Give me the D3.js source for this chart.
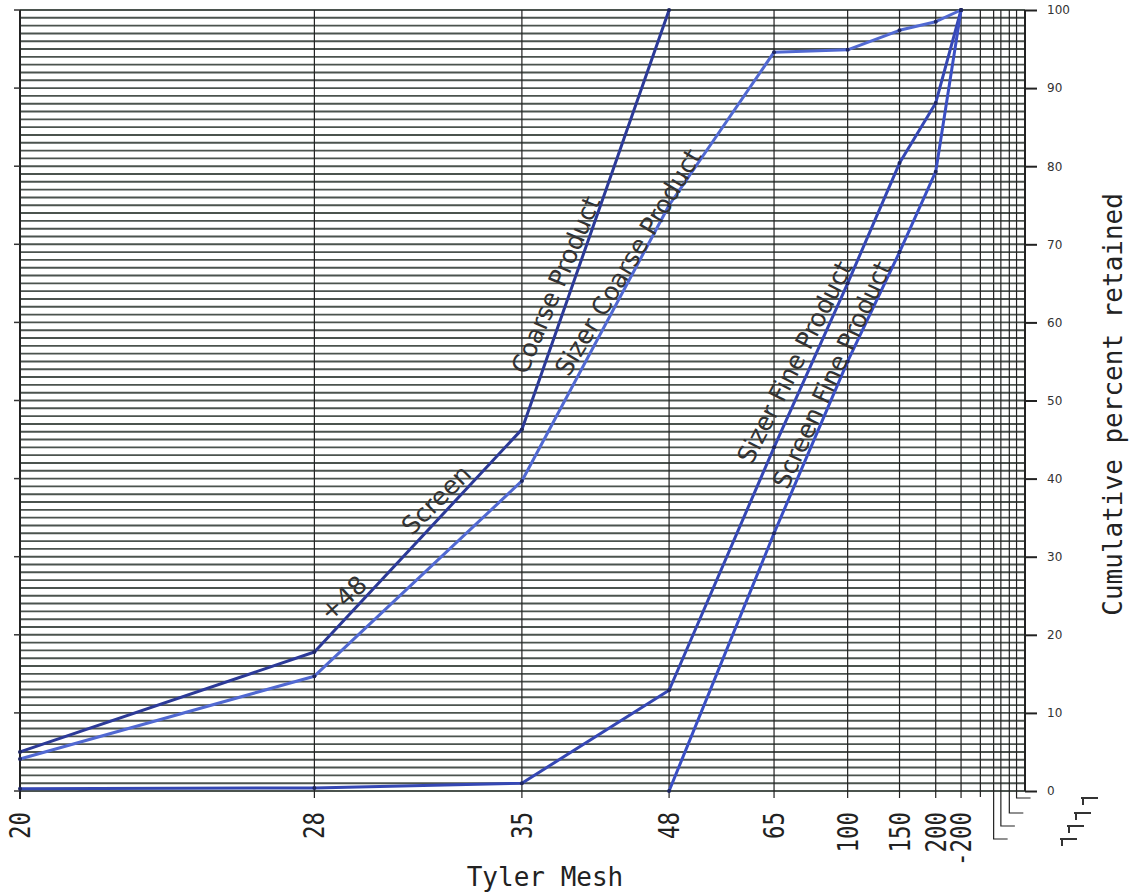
<!DOCTYPE html>
<html>
<head>
<meta charset="utf-8">
<script src="https://cdn.jsdelivr.net/npm/d3@7"></script>
<style>
  body { margin: 0; background: #fff; }
  svg { display: block; }
</style>
</head>
<body>
<svg id="chart"></svg>
<script>
// Tyler mesh sieves and their openings (microns) - x axis is linear in opening
var meshLabels  = ["20", "28", "35", "48", "65", "100", "150", "200", "-200"];
var meshOpening = [833, 589, 417, 295, 208, 147, 104, 74, 53];
// extra ruled lines past -200 on the printed sheet
var extraOpening = [37, 26, 20, 13, 7];

// cumulative percent retained
var coarseProduct = [5, 17.8, 46.3, 100];                               // 20..48
var sizerCoarse   = [4.1, 14.7, 39.7, 75, 94.6, 94.9, 97.4, 98.5, 100];  // 20..-200
var sizerFine     = [0.3, 0.4, 1.0, 12.9, 44, 65, 80.4, 88.1, 100];      // 20..-200
var screenFine    = [0, 33, 55, 69, 79.3, 100];                          // 48..-200

var yTicks = d3.range(0, 101, 10);

var width = 1135, height = 896;
var svg = d3.select("#chart").attr("width", width).attr("height", height);

var x = d3.scaleLinear().domain([833, 0]).range([20, 1025]);
var y = d3.scaleLinear().domain([0, 100]).range([791, 10]);

// horizontal ruling, every 1 percent
svg.append("g")
  .selectAll("line")
  .data(d3.range(0, 101))
  .enter()
  .append("line")
    .attr("x1", x(833))
    .attr("x2", x(0))
    .attr("y1", d => y(d))
    .attr("y2", d => y(d))
    .attr("stroke", "#2c352f")
    .attr("stroke-opacity", 0.85)
    .attr("stroke-width", 1.9);

// vertical lines at each mesh
svg.append("g")
  .selectAll("line")
  .data(meshOpening)
  .enter()
  .append("line")
    .attr("x1", d => x(d))
    .attr("x2", d => x(d))
    .attr("y1", y(100))
    .attr("y2", y(0) + 7)
    .attr("stroke", "#222")
    .attr("stroke-width", 1.2);

// extra vertical lines; the last four run down and turn right (L shapes)
var drop = [0, 48, 35, 22, 7];
svg.append("g")
  .selectAll("path")
  .data(extraOpening)
  .enter()
  .append("path")
    .attr("d", (d, i) => {
      var px = x(d), bottom = y(0) + (i == 0 ? 6 : drop[i]);
      return "M" + px + "," + y(100) + "V" + bottom + (i == 0 ? "" : "h14");
    })
    .attr("fill", "none")
    .attr("stroke", "#222")
    .attr("stroke-width", 1.2);

// left and right borders
svg.append("line")
  .attr("x1", x(833)).attr("x2", x(833))
  .attr("y1", y(100)).attr("y2", y(0) + 8)
  .attr("stroke", "#222").attr("stroke-width", 2);
svg.append("line")
  .attr("x1", x(0)).attr("x2", x(0))
  .attr("y1", y(100)).attr("y2", y(0))
  .attr("stroke", "#222").attr("stroke-width", 2);

// left ticks
svg.append("g")
  .selectAll("line")
  .data(yTicks)
  .enter()
  .append("line")
    .attr("x1", x(833) - 6).attr("x2", x(833))
    .attr("y1", d => y(d)).attr("y2", d => y(d))
    .attr("stroke", "#333").attr("stroke-width", 1.5);

// right axis
var yAxis = d3.axisRight(y)
  .tickValues(yTicks)
  .tickSize(12)
  .tickPadding(10)
  .tickSizeOuter(0);

var gy = svg.append("g")
  .attr("transform", "translate(" + x(0) + ",0)")
  .call(yAxis);
gy.select(".domain").remove();
gy.selectAll(".tick line").attr("stroke", "#222").attr("stroke-width", 2);
gy.selectAll(".tick text")
  .attr("fill", "#333")
  .style("font-family", "DejaVu Sans")
  .style("font-size", "12px");

// mesh labels along the bottom, rotated
svg.append("g")
  .selectAll("text")
  .data(meshLabels)
  .enter()
  .append("text")
    .attr("transform", (d, i) => "translate(" + (x(meshOpening[i]) + 10) + ",812) rotate(-90) scale(0.8,1)")
    .attr("text-anchor", "end")
    .style("font-family", "DejaVu Sans Mono")
    .style("font-size", "28px")
    .attr("fill", "#222")
    .text(d => d);

// little marks at the bottom right (one per L line)
var markDepth = [7, 22, 35, 48];
svg.append("g")
  .selectAll("path")
  .data(markDepth)
  .enter()
  .append("path")
    .attr("d", (d, i) => {
      var mx = x(0) + 56 - i * 7, my = y(0) + d;
      return "M" + mx + "," + my + "h17M" + (mx + 2) + "," + my + "v7";
    })
    .attr("fill", "none")
    .attr("stroke", "#333")
    .attr("stroke-width", 2);

// axis titles
svg.append("text")
  .attr("x", 545)
  .attr("y", 886)
  .attr("text-anchor", "middle")
  .style("font-family", "DejaVu Sans Mono")
  .style("font-size", "26px")
  .attr("fill", "#222")
  .text("Tyler Mesh");

svg.append("text")
  .attr("transform", "translate(1122," + y(49.5) + ") rotate(-90)")
  .attr("text-anchor", "middle")
  .style("font-family", "DejaVu Sans Mono")
  .style("font-size", "26px")
  .attr("fill", "#222")
  .text("Cumulative percent retained");

// data lines
var line = d3.line()
  .x(d => x(d.op))
  .y(d => y(d.v));

function pts(values, start) {
  return values.map((v, i) => ({ op: meshOpening[start + i], v: v }));
}

var series = [
  { name: "coarse", data: pts(coarseProduct, 0), color: "#2c3a98" },
  { name: "sizerCoarse", data: pts(sizerCoarse, 0), color: "#5169d2" },
  { name: "sizerFine", data: pts(sizerFine, 0), color: "#3547b4" },
  { name: "screenFine", data: pts(screenFine, 3), color: "#3a4fc4" }
];

svg.append("g")
  .selectAll("path")
  .data(series)
  .enter()
  .append("path")
    .attr("d", d => line(d.data))
    .attr("fill", "none")
    .attr("stroke", d => d.color)
    .attr("stroke-width", 3)
    .attr("stroke-linejoin", "round");

// small pencil dots at the plotted points
svg.append("g")
  .selectAll("circle")
  .data(series.flatMap(s => s.data))
  .enter()
  .append("circle")
    .attr("cx", d => x(d.op))
    .attr("cy", d => y(d.v))
    .attr("r", 2)
    .attr("fill", "#1e2660");

// hand lettered labels, placed in data space
var notes = [
  { text: "+48", op: 565, v: 24.7, angle: -42 },
  { text: "Screen", op: 488, v: 37.3, angle: -45 },
  { text: "Coarse Product", op: 389, v: 64.8, angle: -67 },
  { text: "Sizer Coarse Product", op: 329, v: 67.7, angle: -59 },
  { text: "Sizer Fine Product", op: 191, v: 54.9, angle: -63 },
  { text: "Screen Fine Product", op: 160, v: 53.3, angle: -65 }
];

svg.append("g")
  .selectAll("text")
  .data(notes)
  .enter()
  .append("text")
    .attr("transform", d => "translate(" + x(d.op) + "," + y(d.v) + ") rotate(" + d.angle + ")")
    .attr("text-anchor", "middle")
    .attr("dy", "0.35em")
    .style("font-family", "DejaVu Sans")
    .style("font-size", "25px")
    .attr("fill", "#333")
    .text(d => d.text);
</script>
</body>
</html>
